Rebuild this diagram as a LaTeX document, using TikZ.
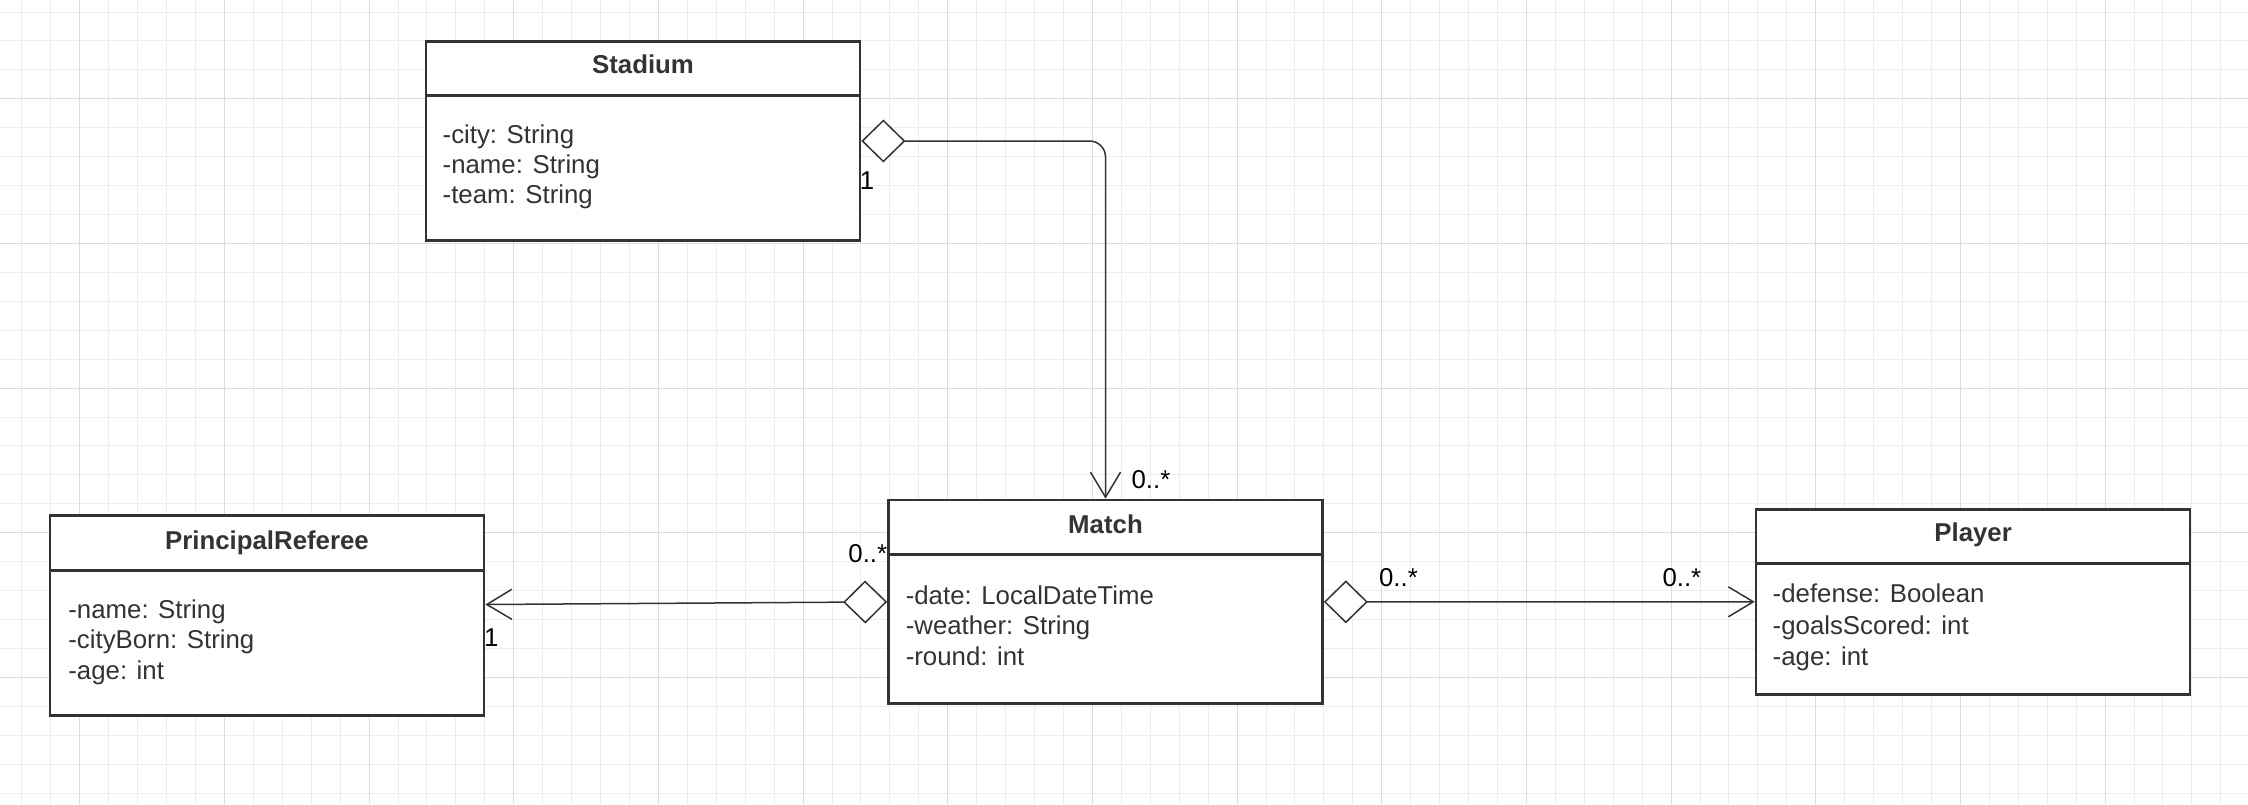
\documentclass[tikz,border=0pt]{standalone}
\usepackage{fontspec}
\setmainfont{Liberation Sans}
\usetikzlibrary{arrows.meta,calc}

\definecolor{ink}{HTML}{333333}
\definecolor{gridminor}{HTML}{EDEDED}
\definecolor{gridmajor}{HTML}{DCDCDC}

\tikzset{
  aggtip/.tip={Diamond[fill=white,length=44pt,width=43pt]},
  navtip/.tip={Straight Barb[length=25pt,width=30pt]},
}

\begin{document}
\begin{tikzpicture}[x=1pt,y=-1pt,
  classbox/.style={draw=ink, line width=2.7pt, fill=white, rectangle, inner sep=0pt,
                   minimum width=434pt},
  divider/.style={draw=ink, line width=2.7pt},
  title/.style={anchor=base, inner sep=0pt, text=ink,
                font=\fontsize{25.8}{30}\selectfont\bfseries},
  attr/.style={anchor=base west, inner sep=0pt, text=ink,
               font=\fontsize{25.8}{30}\selectfont},
  mult/.style={anchor=base west, inner sep=0pt, text=black,
               font=\fontsize{25.8}{30}\selectfont},
  assoc/.style={draw=ink, line width=1.5pt},
]
% canvas
\fill[white] (0,0) rectangle (2248,804);
\useasboundingbox (0,0) rectangle (2248,804);

% background grid, lines snapped to pixel centres
\foreach \i in {0,...,77} {
  \pgfmathsetmacro\gx{round(21.4+\i*28.933)+0.5}
  \draw[gridminor, line width=1pt] (\gx,0) -- (\gx,804);
}
\foreach \j in {0,...,27} {
  \pgfmathsetmacro\gy{round(11.5+\j*28.933)+0.5}
  \draw[gridminor, line width=1pt] (0,\gy) -- (2248,\gy);
}
\foreach \k in {0,...,14} {
  \pgfmathsetmacro\gx{round(79.3+\k*144.67)+0.5}
  \draw[gridmajor, line width=1pt] (\gx,0) -- (\gx,804);
}
\foreach \k in {0,...,4} {
  \pgfmathsetmacro\gy{round(98.3+\k*144.67)+0.5}
  \draw[gridmajor, line width=1pt] (0,\gy) -- (2248,\gy);
}

% classes
\node[classbox, minimum height=199pt]   (stadium) at (643,141.2)    {};
\node[classbox, minimum height=203.7pt] (match)   at (1105.5,601.85) {};
\node[classbox, minimum height=185pt]   (player)  at (1973.1,601.8)  {};
\node[classbox, minimum height=199.6pt] (referee) at (267,615.5)     {};

\draw[divider] ($(stadium.north west)+(0,55)$) -- ($(stadium.north east)+(0,55)$);
\draw[divider] ($(match.north west)+(0,55.6)$) -- ($(match.north east)+(0,55.6)$);
\draw[divider] ($(player.north west)+(0,55.4)$) -- ($(player.north east)+(0,55.4)$);
\draw[divider] ($(referee.north west)+(0,55.9)$) -- ($(referee.north east)+(0,55.9)$);

% class names
\node[title] (stadiumName) at (643,73.3)    {Stadium};
\node[title] (matchName)   at (1105.5,533.3) {Match};
\node[title] (playerName)  at (1973.1,541.7) {Player};
\node[title] (refereeName) at (267,549.3)   {PrincipalReferee};

% attributes
\node[attr] (sa1) at (442.5,143)   {-city: String};
\node[attr] (sa2) at (442.5,173.3) {-name: String};
\node[attr] (sa3) at (442.5,203.3) {-team: String};

\node[attr] (ma1) at (905.6,604)   {-date: LocalDateTime};
\node[attr] (ma2) at (905.6,634.5) {-weather: String};
\node[attr] (ma3) at (905.6,665)   {-round: int};

\node[attr] (pa1) at (1772.5,602.7) {-defense: Boolean};
\node[attr] (pa2) at (1772.5,634)   {-goalsScored: int};
\node[attr] (pa3) at (1772.5,665)   {-age: int};

\node[attr] (ra1) at (68.2,618.3) {-name: String};
\node[attr] (ra2) at (68.2,648.3) {-cityBorn: String};
\node[attr] (ra3) at (68.2,679.3) {-age: int};

% associations
\draw[assoc, aggtip-navtip, rounded corners=16pt]
  ($(stadium.north east)+(0,100.65)$) -| (match.north);
\draw[assoc, aggtip-navtip] (match.west) -- ($(referee.east)+(0,-11)$);
\draw[assoc, aggtip-navtip] (match.east) -- (player.west);

% multiplicities
\node[mult] (m1) at (859.7,189.5)  {1};
\node[mult] (m2) at (1131.4,488.5) {0..*};
\node[mult] (m3) at (848.2,562)    {0..*};
\node[mult] (m4) at (483.9,646)    {1};
\node[mult] (m5) at (1378.9,586)   {0..*};
\node[mult] (m6) at (1662.3,586)   {0..*};
\end{tikzpicture}
\end{document}
